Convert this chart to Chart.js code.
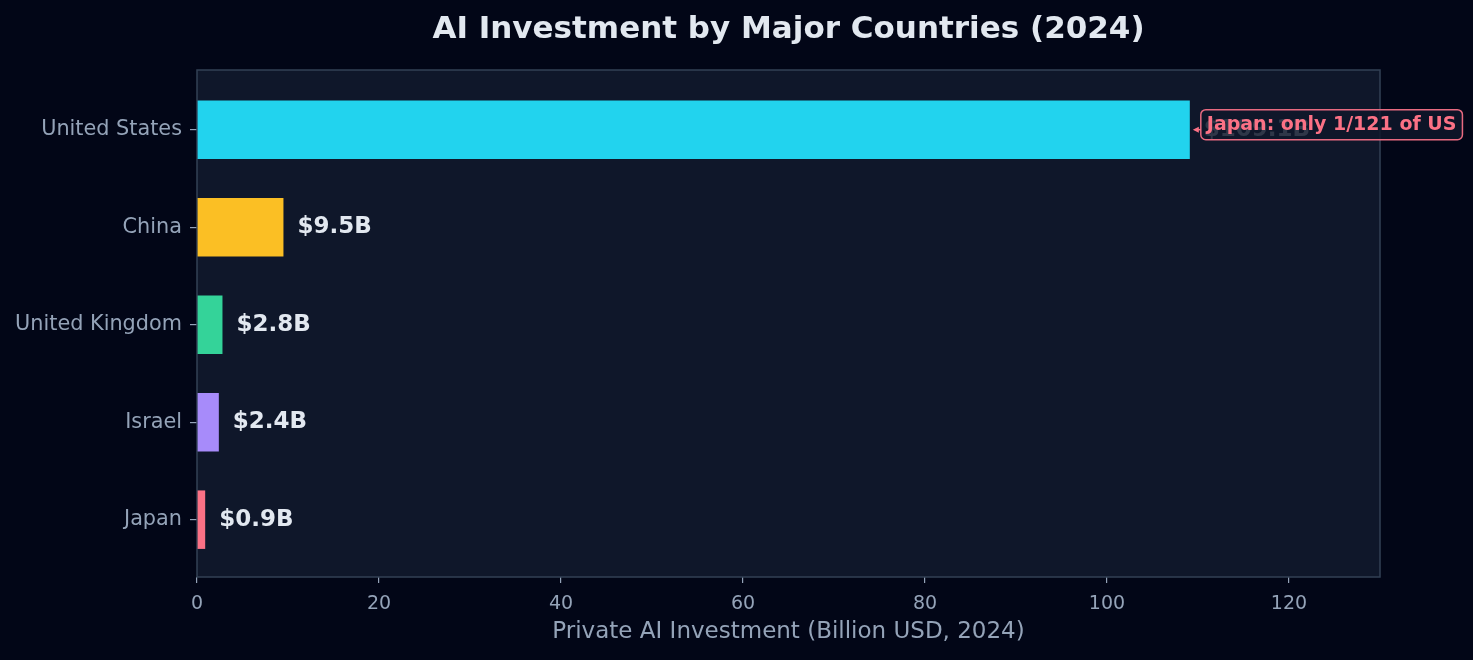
<!DOCTYPE html>
<html>
<head>
<meta charset="utf-8">
<script src="https://cdn.jsdelivr.net/npm/chart.js@4.4.1/dist/chart.umd.min.js"></script>
<style>
  html, body { margin: 0; padding: 0; background: #020617; }
  #wrap { width: 1473px; height: 660px; position: relative; }
</style>
</head>
<body>
<div id="wrap"><canvas id="c" width="1473" height="660"></canvas></div>
<script>
const countries = ['United States', 'China', 'United Kingdom', 'Israel', 'Japan'];
const investment = [109.1, 9.5, 2.8, 2.4, 0.9];
const barColors = ['#22d3ee', '#fbbf24', '#34d399', '#a78bfa', '#fb7185'];
const xTicksStep = 20;
const xMax = 130;
const titleText = 'AI Investment by Major Countries (2024)';
const xAxisTitle = 'Private AI Investment (Billion USD, 2024)';
const noteText = 'Japan: only 1/121 of US';

const FONT = "'DejaVu Sans', sans-serif";

const decor = {
  id: 'decor',
  beforeDraw(chart) {
    const { ctx, chartArea: a } = chart;
    ctx.save();
    ctx.fillStyle = '#020617';
    ctx.fillRect(0, 0, chart.width, chart.height);
    ctx.fillStyle = '#0f172a';
    ctx.fillRect(a.left, a.top, a.right - a.left, a.bottom - a.top);
    ctx.restore();
  },
  beforeDatasetsDraw(chart) {
    const { ctx, chartArea: a } = chart;
    ctx.save();
    ctx.strokeStyle = '#334155';
    ctx.lineWidth = 1.5;
    ctx.strokeRect(a.left, a.top, a.right - a.left, a.bottom - a.top);
    ctx.restore();
  },
  afterDatasetsDraw(chart) {
    const { ctx } = chart;
    const xs = chart.scales.x, ys = chart.scales.y;
    ctx.save();
    // value labels
    ctx.font = `bold 23px ${FONT}`;
    ctx.fillStyle = '#e2e8f0';
    ctx.textAlign = 'left';
    ctx.textBaseline = 'middle';
    investment.forEach((v, i) => {
      ctx.fillText('$' + v.toFixed(1) + 'B', xs.getPixelForValue(v) + 14, ys.getPixelForValue(i));
    });
    // annotation
    const tipX = xs.getPixelForValue(investment[0]) + 3;
    const tipY = ys.getPixelForValue(0);
    const boxX = tipX + 8, boxY = tipY - 20, boxH = 30;
    ctx.font = `bold 19px ${FONT}`;
    const tw = ctx.measureText(noteText).width;
    const boxW = tw + 12;
    ctx.beginPath();
    ctx.roundRect(boxX, boxY, boxW, boxH, 5);
    ctx.fillStyle = 'rgba(15,23,42,0.85)';
    ctx.fill();
    ctx.strokeStyle = '#e86a80';
    ctx.lineWidth = 1.5;
    ctx.stroke();
    // arrow
    ctx.strokeStyle = '#fb7185';
    ctx.fillStyle = '#fb7185';
    ctx.lineWidth = 1.5;
    ctx.beginPath();
    ctx.moveTo(boxX, tipY);
    ctx.lineTo(tipX + 2, tipY);
    ctx.stroke();
    ctx.beginPath();
    ctx.moveTo(tipX, tipY);
    ctx.lineTo(tipX + 6, tipY - 3);
    ctx.lineTo(tipX + 6, tipY + 3);
    ctx.closePath();
    ctx.fill();
    ctx.fillStyle = '#fb7185';
    ctx.textBaseline = 'middle';
    ctx.fillText(noteText, boxX + 6, boxY + boxH / 2);
    ctx.restore();
  },
  afterDraw(chart) {
    const { ctx, chartArea: a } = chart;
    const cx = (a.left + a.right) / 2;
    ctx.save();
    ctx.textAlign = 'center';
    ctx.textBaseline = 'middle';
    ctx.fillStyle = '#e2e8f0';
    ctx.font = `bold 31px ${FONT}`;
    ctx.fillText(titleText, cx, 30);
    ctx.fillStyle = '#94a3b8';
    ctx.font = `23px ${FONT}`;
    ctx.fillText(xAxisTitle, cx, 632);
    ctx.restore();
  }
};

new Chart(document.getElementById('c'), {
  type: 'bar',
  data: {
    datasets: [{
      data: countries.map((c, i) => ({ x: investment[i], y: i })),
      backgroundColor: barColors,
      borderWidth: 0,
      categoryPercentage: 1,
      barPercentage: 0.6
    }]
  },
  options: {
    indexAxis: 'y',
    responsive: false,
    animation: false,
    devicePixelRatio: 1,
    layout: { padding: { top: 70, right: 93, left: 0, bottom: 0 } },
    plugins: { legend: { display: false }, tooltip: { enabled: false }, title: { display: false } },
    scales: {
      x: {
        type: 'linear',
        min: 0,
        max: xMax,
        offset: false,
        afterFit(s) { s.height = 83; },
        border: { display: false },
        grid: { offset: false, drawOnChartArea: false, drawTicks: true, tickLength: 6, color: '#94a3b8', lineWidth: 1.2 },
        ticks: { stepSize: xTicksStep, includeBounds: false, color: '#94a3b8', font: { family: FONT, size: 19 }, padding: 10 }
      },
      y: {
        type: 'linear',
        min: -0.612,
        max: 4.588,
        reverse: true,
        offset: false,
        afterFit(s) { s.width = 197; },
        afterBuildTicks(s) { s.ticks = countries.map((c, i) => ({ value: i })); },
        border: { display: false },
        grid: { offset: false, drawOnChartArea: false, drawTicks: true, tickLength: 7, color: '#94a3b8', lineWidth: 1.2 },
        ticks: {
          color: '#94a3b8',
          font: { family: FONT, size: 20.8 },
          padding: 8,
          callback: (v) => countries[v] ?? ''
        }
      }
    }
  },
  plugins: [decor]
});
</script>
</body>
</html>
